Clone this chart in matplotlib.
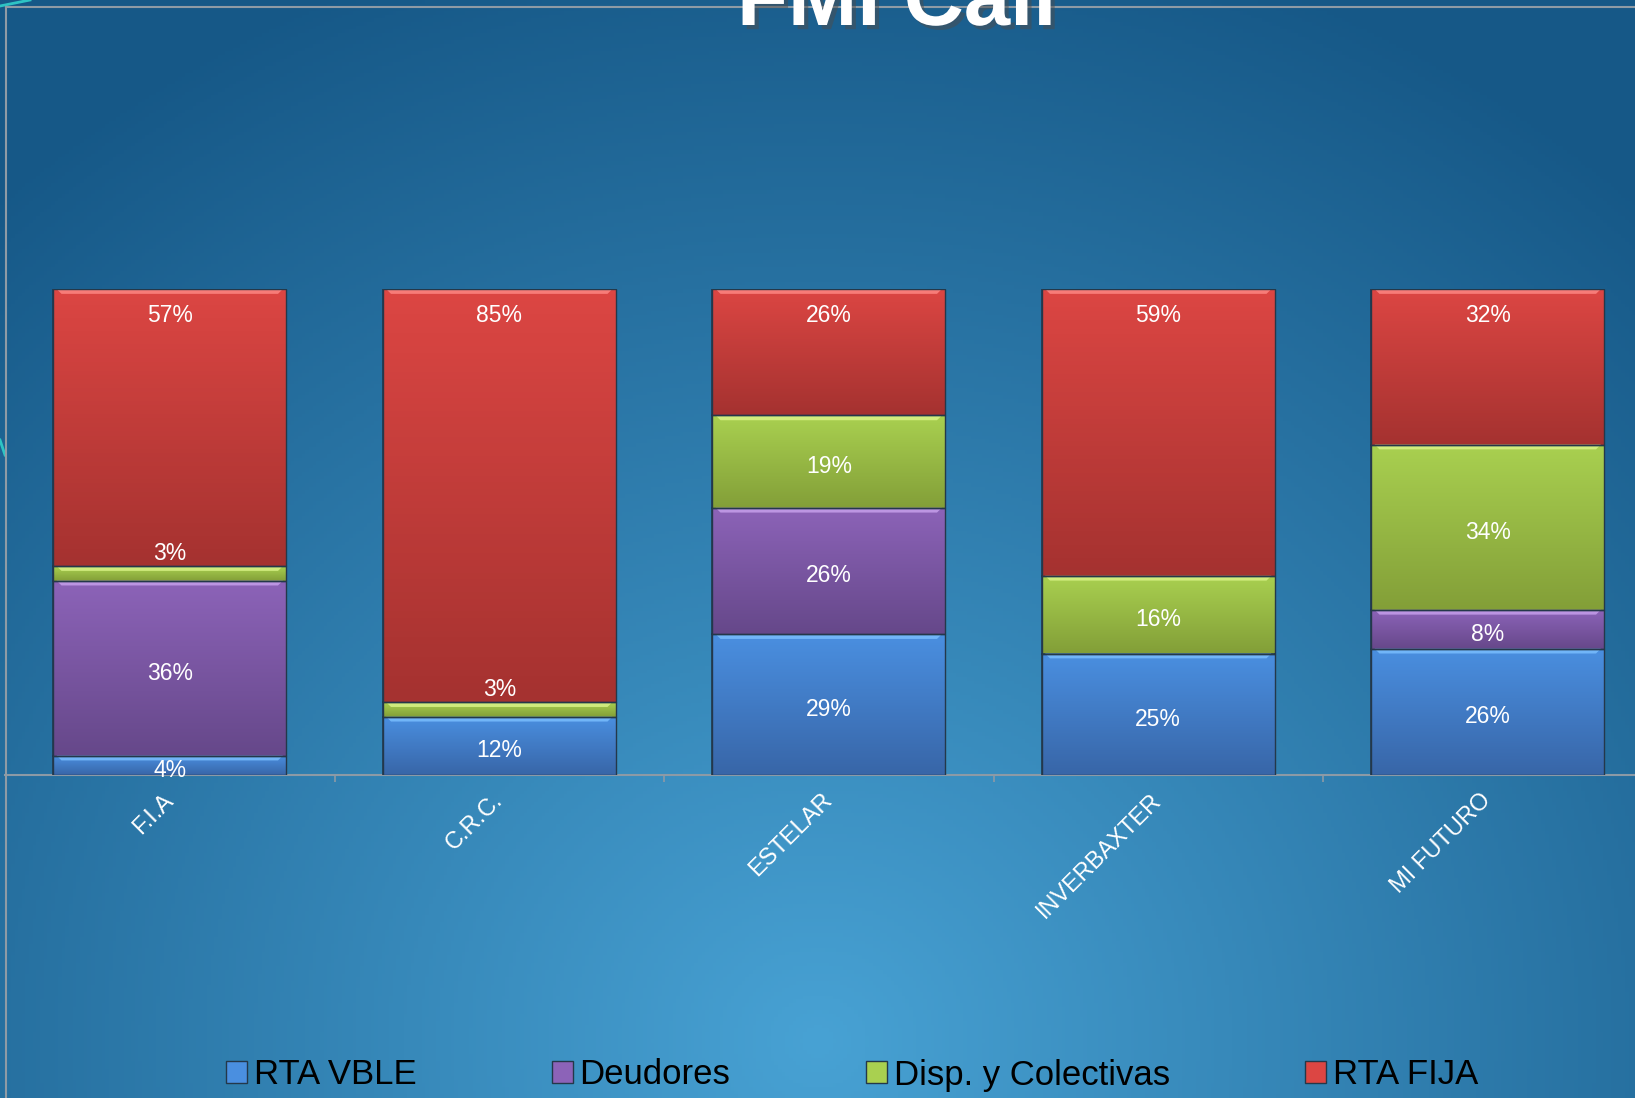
import numpy as np
import matplotlib
matplotlib.use("Agg")
import matplotlib.pyplot as plt
import matplotlib.patheffects as pe
from matplotlib.colors import to_rgb
from matplotlib.lines import Line2D

plt.rcParams['font.family'] = ['Liberation Sans', 'DejaVu Sans']

# datos del grafico (porcentajes)
fondos = ['F.I.A', 'C.R.C.', 'ESTELAR', 'INVERBAXTER', 'MI FUTURO']
rta_vble = [4, 12, 29, 25, 26]
deudores = [36, 0, 26, 0, 8]
disp_colectivas = [3, 3, 19, 16, 34]
rta_fija = [57, 85, 26, 59, 32]

series = [
    ('RTA VBLE', rta_vble, '#4a8fe0', '#3866a8', '#7cc0ff'),
    ('Deudores', deudores, '#8c63b8', '#66488a', '#c9a2ee'),
    ('Disp. y Colectivas', disp_colectivas, '#a9d050', '#839f38', '#dcf58a'),
    ('RTA FIJA', rta_fija, '#dc4643', '#a53230', '#ff8a86'),
]

W, H = 1635, 1098
fig = plt.figure(figsize=(W / 100, H / 100), dpi=100)

# fondo degradado
bg = fig.add_axes([0, 0, 1, 1], zorder=-10)
yy, xx = np.mgrid[0:1:300j, 0:1:450j]
d = np.sqrt(((xx - 0.5) / 0.75) ** 2 + ((yy - 0.05) / 1.05) ** 2)
d = np.clip(d, 0, 1)
c_in = np.array([72, 162, 212]) / 255
c_out = np.array([22, 88, 135]) / 255
img = c_in[None, None, :] * (1 - d[..., None]) + c_out[None, None, :] * d[..., None]
bg.imshow(img, extent=(0, 1, 0, 1), origin='lower', aspect='auto')
bg.set_axis_off()

# zona de trazado (se sale un poco por la derecha, como en el original)
x_left = 5 / W
cat_px = 329.5
base_px = 775
top_px = 289
ax = fig.add_axes([x_left, (H - base_px) / H, 5 * cat_px / W, (base_px - top_px) / H])
ax.set_facecolor('none')

x = np.arange(len(fondos))
ancho = 0.707
bottom = np.zeros(len(fondos))
px_per_unit = (base_px - top_px) / 100.0
bajar = 5 / px_per_unit  # las etiquetas van un poco por debajo del centro

for nombre, vals, c_top, c_bot, c_hi in series:
    vals = np.array(vals, dtype=float)
    bars = ax.bar(x, vals, ancho, bottom=bottom, color=c_top, edgecolor='#1f3850',
                  linewidth=1.2, label=nombre, zorder=2)
    grad = np.linspace(0, 1, 64)[:, None, None]
    col = np.array(to_rgb(c_bot)) * (1 - grad) + np.array(to_rgb(c_top)) * grad
    col = np.repeat(col, 4, axis=1)
    for b, v, b0 in zip(bars, vals, bottom):
        if v <= 0:
            continue
        x0 = b.get_x()
        w = b.get_width()
        im = ax.imshow(col, extent=(x0, x0 + w, b0, b0 + v), origin='lower',
                       aspect='auto', zorder=2.1)
        im.set_clip_path(b)
        # bisel claro arriba
        band = min(1.0, v * 0.35)
        ax.fill([x0 + 0.01, x0 + w - 0.01, x0 + w - 0.025, x0 + 0.025],
                [b0 + v, b0 + v, b0 + v - band, b0 + v - band],
                color=c_hi, alpha=0.8, lw=0, zorder=2.2)
        ax.add_patch(plt.Rectangle((x0, b0), w, v, fill=False, ec='#24384a',
                                   lw=1.0, zorder=2.3))
    # etiquetas
    for xi, v, b0 in zip(x, vals, bottom):
        if v <= 0:
            continue
        if nombre == 'RTA FIJA':
            ypos = 100 - 26 / px_per_unit
        elif v < 3.5 and nombre != 'RTA VBLE':
            ypos = b0 + v / 2 + 4.0
        else:
            ypos = b0 + v / 2 - bajar
        ax.text(xi, ypos, f'{v:.0f}%', ha='center', va='center', color='white',
                fontsize=16.5, zorder=5)
    bottom = bottom + vals

ax.set_xlim(-0.5, len(fondos) - 0.5)
ax.set_ylim(0, 100)
for s in ['top', 'right', 'left']:
    ax.spines[s].set_visible(False)
ax.spines['bottom'].set_color('#8c9aa6')
ax.spines['bottom'].set_linewidth(1.5)
ax.spines['bottom'].set_zorder(1)
ax.set_yticks([])
ax.set_xticks(x)
ax.set_xticklabels(fondos, rotation=45, ha='right', va='center',
                   rotation_mode='anchor', color='white', fontsize=17)
ax.set_xticks(np.arange(0.5, len(fondos) - 0.5, 1), minor=True)
ax.tick_params(axis='x', which='major', length=0, pad=16)
ax.tick_params(axis='x', which='minor', length=5, color='#8c9aa6', width=1.2)

# titulo cortado arriba
fig.text(897 / W, 1 - 25 / H, 'FMI Cali', ha='center', va='baseline', fontsize=60,
         fontweight='bold', color='white', zorder=20,
         path_effects=[pe.SimplePatchShadow(offset=(3, -3), alpha=0.5), pe.Normal()])

# marco gris del area de grafico
fig.add_artist(Line2D([6 / W, 1], [1 - 7 / H, 1 - 7 / H], color='#8f9ba5', lw=1.5, zorder=15))
fig.add_artist(Line2D([6 / W, 6 / W], [0, 1 - 7 / H], color='#8f9ba5', lw=1.5, zorder=15))
# detalles cian de la diapositiva
fig.add_artist(Line2D([0, 30 / W], [1 - 6 / H, 1.0], color='#2ec4c4', lw=2))
fig.add_artist(Line2D([0, 5 / W], [1 - 440 / H, 1 - 455 / H], color='#2ec4c4', lw=2))

handles = [plt.Rectangle((0, 0), 1, 1, fc=s[2], ec='#24384a', lw=1) for s in series]
fig.legend(handles, [s[0] for s in series], loc='center', bbox_to_anchor=(852 / W, 23 / H),
           ncol=4, frameon=False, fontsize=25, handlelength=0.6, handleheight=0.6,
           handletextpad=0.2, columnspacing=3.9, labelcolor='black')

fig.savefig('out.png', dpi=100)
